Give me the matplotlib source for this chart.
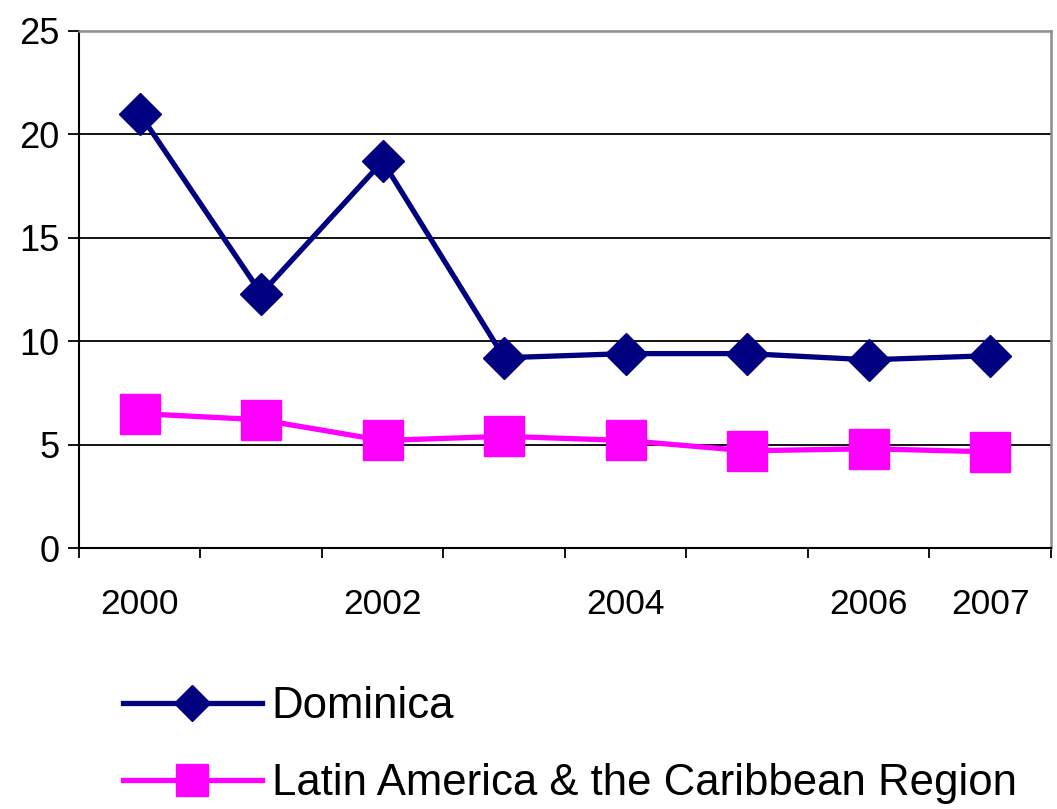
import matplotlib
matplotlib.use('Agg')
import matplotlib.pyplot as plt
from matplotlib.lines import Line2D

years = ['2000', '2001', '2002', '2003', '2004', '2005', '2006', '2007']
shown_labels = ['2000', '', '2002', '', '2004', '', '2006', '2007']
dominica = [21.0, 12.3, 18.7, 9.2, 9.4, 9.4, 9.1, 9.3]
latin_america = [6.5, 6.2, 5.2, 5.4, 5.2, 4.7, 4.8, 4.65]
y_ticks = [0, 5, 10, 15, 20, 25]

navy = '#000080'
magenta = '#FF00FF'

plt.rcParams['font.family'] = ['Liberation Sans', 'DejaVu Sans']

fig = plt.figure(figsize=(10.57, 8.09), dpi=100)
ax = fig.add_axes([0.0747, 0.3226, 0.9196, 0.6391])

x = list(range(len(years)))

# Gridlines (black) under the series
for yv in y_ticks[1:-1]:
    ax.axhline(yv, color='black', lw=1.3, zorder=1)

ax.plot(x, dominica, color=navy, lw=3.8, marker='D', markersize=21,
        markerfacecolor=navy, markeredgecolor=navy, zorder=3)
ax.plot(x, latin_america, color=magenta, lw=3.8, marker='s', markersize=29.5,
        markerfacecolor=magenta, markeredgecolor=magenta, zorder=3)

ax.set_xlim(-0.5, len(years) - 0.5)
ax.set_ylim(0, 25)

# Spines
ax.spines['left'].set_color('black')
ax.spines['left'].set_linewidth(1.5)
ax.spines['bottom'].set_color('black')
ax.spines['bottom'].set_linewidth(1.5)
ax.spines['top'].set_color('#8c8c8c')
ax.spines['top'].set_linewidth(1.8)
ax.spines['right'].set_color('#8c8c8c')
ax.spines['right'].set_linewidth(1.8)

# Y ticks
ax.set_yticks(y_ticks)
ax.tick_params(axis='y', length=8, width=1.3, pad=6, labelsize=26, color='black')

# X: labels at category centers, tick marks at boundaries
ax.set_xticks(x)
ax.set_xticklabels(shown_labels)
ax.set_xticks([i - 0.5 for i in range(len(years) + 1)], minor=True)
ax.tick_params(axis='x', which='major', length=0, pad=29, labelsize=25.5)
ax.tick_params(axis='x', which='minor', length=7.5, width=1.3, color='black')

# Legend below the plot
handles = [
    Line2D([0], [0], color=navy, lw=3.8, marker='D', markersize=18,
           markerfacecolor=navy, markeredgecolor=navy),
    Line2D([0], [0], color=magenta, lw=3.8, marker='s', markersize=23,
           markerfacecolor=magenta, markeredgecolor=magenta),
]
fig.legend(handles, ['Dominica', 'Latin America & the Caribbean Region'],
           loc='upper left', bbox_to_anchor=(0.116, 0.152), bbox_transform=fig.transFigure,
           frameon=False, fontsize=31.5, handlelength=3.18, handletextpad=0.23,
           labelspacing=0.83, borderaxespad=0, borderpad=0)

fig.savefig('out.png', dpi=100)
